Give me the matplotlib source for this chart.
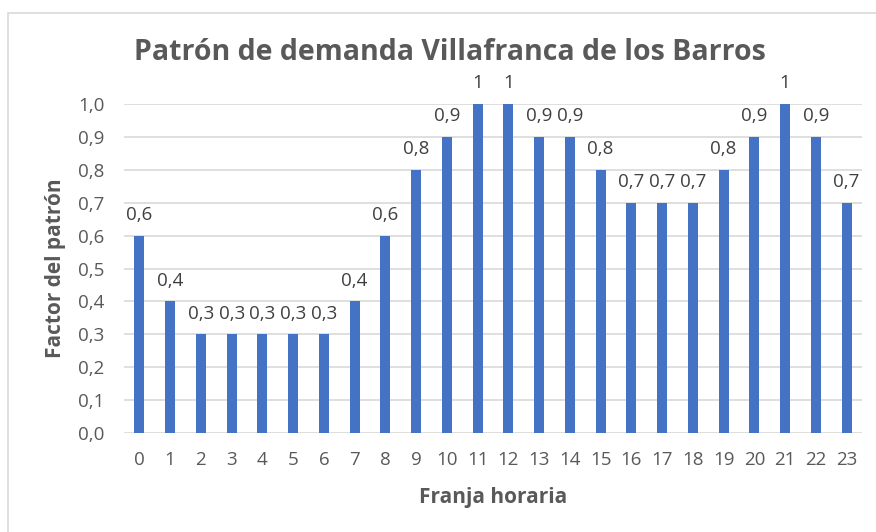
import matplotlib.pyplot as plt
import matplotlib.patches as mpatches

horas = list(range(24))
factor = [0.6, 0.4, 0.3, 0.3, 0.3, 0.3, 0.3, 0.4, 0.6, 0.8, 0.9, 1.0,
          1.0, 0.9, 0.9, 0.8, 0.7, 0.7, 0.7, 0.8, 0.9, 1.0, 0.9, 0.7]
yticks = [i / 10 for i in range(11)]

gris = '#595959'
plt.rcParams['font.family'] = ['Open Sans', 'DejaVu Sans']

fig = plt.figure(figsize=(8.76, 5.32), dpi=100)
ax = fig.add_axes([124 / 876, 1 - 433 / 532, (862 - 124) / 876, (433 - 104) / 532])

# marco del grafico (estilo Excel)
fig.patches.append(mpatches.Rectangle((8 / 876, -0.1), 1.2, 1 - 13 / 532 + 0.1,
                                      transform=fig.transFigure, fill=False,
                                      edgecolor='#D9D9D9', lw=1.2))

ax.bar(horas, factor, width=0.32, color='#4472C4', zorder=3)

def etiqueta(v):
    if v == 1.0:
        return '1'
    return ('%.1f' % v).replace('.', ',')

for h, v in zip(horas, factor):
    ax.text(h, v + 0.035, etiqueta(v), ha='center', va='bottom', fontsize=13.5,
            color='#404040', clip_on=False)

ax.set_xlim(-0.5, 23.5)
ax.set_ylim(0, 1.0)
ax.set_xticks(horas)
ax.set_yticks(yticks)
ax.set_yticklabels([('%.1f' % t).replace('.', ',') for t in yticks])
ax.grid(axis='y', color='#D9D9D9', lw=1.2, zorder=0)
for s in ax.spines.values():
    s.set_visible(False)
ax.tick_params(length=0, labelsize=13.5, labelcolor=gris)
ax.tick_params(axis='x', pad=13)
ax.tick_params(axis='y', pad=14)

fig.text(450 / 876, 1 - 52 / 532, 'Patrón de demanda Villafranca de los Barros',
         ha='center', va='center', fontsize=20.5, fontweight='bold', color=gris)
fig.text(493 / 876, 1 - 497 / 532, 'Franja horaria', ha='center', va='center',
         fontsize=15, fontweight='bold', color=gris)
fig.text(55 / 876, 1 - 268 / 532, 'Factor del patrón', ha='center', va='center',
         rotation=90, fontsize=15, fontweight='bold', color=gris)

fig.savefig('out.png', dpi=100, facecolor='white')
